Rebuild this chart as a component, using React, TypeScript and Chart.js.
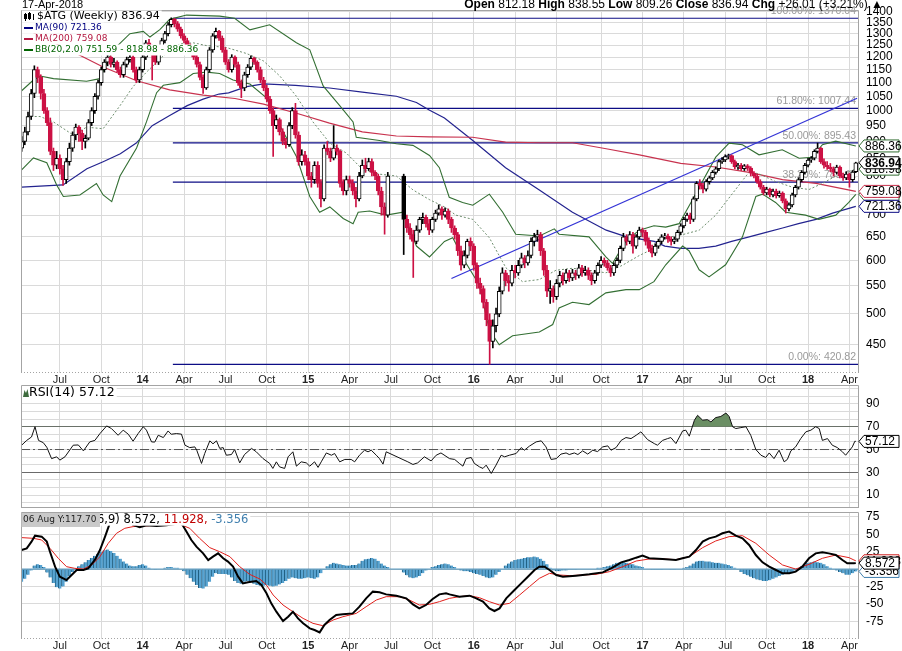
import React, { useEffect, useRef } from "react";
import { Chart, registerables } from "chart.js";

Chart.register(...registerables);

// ===================== DATA =====================
const START_DATE = Date.UTC(2013, 3, 8); // Monday of first weekly bar
const WEEKS = 263;

// weekly candles [open, high, low, close]; null = weeks missing in the feed
const OHLC: any[] = [
  // 0-9
  [880,915,870,900],[900,945,890,930],[930,995,920,980],[980,1075,970,1060],[1060,1165,1045,1150],[1150,1160,1100,1120],[1120,1130,1040,1060],[1060,1075,990,1000],[1000,1010,950,960],[960,975,860,870],
  // 10-19
  [870,880,815,830],[830,870,820,850],[850,860,805,820],[820,830,775,790],[790,850,780,840],[840,895,830,880],[880,930,870,920],[920,955,905,945],[945,950,900,925],[925,935,875,900],
  // 20-29
  [900,920,880,910],[910,970,905,960],[960,1010,950,1000],[1000,1060,990,1050],[1050,1110,1040,1100],[1100,1160,1090,1150],[1150,1190,1140,1180],[1180,1210,1165,1200],[1200,1205,1160,1170],[1170,1195,1160,1180],
  // 30-39
  [1180,1185,1140,1150],[1150,1160,1120,1130],[1130,1180,1120,1170],[1170,1200,1160,1190],[1190,1215,1180,1200],[1200,1205,1140,1150],[1150,1160,1100,1110],[1110,1160,1100,1150],[1150,1210,1140,1200],[1200,1270,1190,1260],
  // 40-49
  [1260,1275,1230,1240],[1240,1250,1110,1210],[1210,1220,1170,1180],[1180,1240,1170,1230],[1230,1280,1220,1270],[1270,1310,1260,1300],[1300,1350,1290,1340],[1340,1372,1330,1365],[1365,1370,1330,1345],[1345,1355,1310,1320],
  // 50-59
  [1320,1330,1280,1290],[1290,1300,1260,1270],[1270,1280,1230,1240],[1240,1255,1210,1220],[1220,1230,1190,1200],[1200,1210,1160,1170],[1170,1180,1110,1120],[1120,1130,1060,1080],[1080,1160,1075,1150],[1150,1240,1140,1230],
  // 60-69
  [1230,1300,1220,1290],[1290,1325,1280,1310],[1310,1315,1270,1280],[1280,1290,1220,1230],[1230,1240,1170,1180],[1180,1190,1140,1150],[1150,1210,1140,1200],[1200,1205,1160,1170],[1170,1180,1090,1100],[1100,1110,1045,1080],
  // 70-79
  [1080,1140,1070,1130],[1130,1170,1120,1160],[1160,1205,1150,1195],[1195,1200,1170,1180],[1180,1185,1140,1150],[1150,1160,1100,1110],[1110,1120,1070,1080],[1080,1090,1030,1040],[1040,1050,990,1000],[1000,1010,855,950],
  // 80-89
  [950,985,940,970],[970,975,920,930],[930,940,890,900],[900,910,880,890],[890,960,885,950],[950,1010,940,1000],[1000,1025,910,920],[920,930,830,840],[840,875,830,860],[860,870,830,840],
  // 90-99
  [840,850,790,800],[800,810,770,790],[790,840,780,830],[830,840,770,780],[780,790,720,740],[740,890,735,880],[880,900,860,870],[870,880,840,850],[850,950,845,880],[880,890,860,870],
  // 100-109
  [870,875,770,780],[780,790,750,760],[760,800,750,790],[790,800,770,780],[780,790,750,760],[760,770,720,740],[740,810,735,800],[800,845,795,830],[830,850,810,820],[820,850,815,840],
  // 110-119
  [840,848,800,810],[810,815,790,800],[800,805,750,760],[760,770,700,720],[720,730,656,700],[700,810,695,800],null,null,null,null,
  // 120-129
  [800,805,612,690],[690,700,660,670],[670,680,645,655],[655,665,566,640],[640,675,635,665],[665,695,660,690],[690,705,680,695],[695,700,672,680],[680,690,655,665],[665,695,660,690],
  // 130-139
  [690,712,685,705],[705,725,700,715],[715,720,690,700],[700,718,695,710],[710,715,680,690],[690,695,660,670],[670,675,645,655],[655,660,610,620],[620,630,580,590],[590,620,585,610],
  // 140-149
  [610,645,605,640],[640,648,620,630],[630,635,580,590],[590,595,545,555],[555,565,535,545],[545,550,510,520],[520,525,480,490],[490,500,421,455],[455,490,445,480],[480,510,470,500],
  // 150-159
  [500,548,495,540],[540,585,535,575],[575,580,550,560],[560,570,540,555],[555,590,550,580],[580,590,565,575],[575,600,570,590],[590,615,585,605],[605,610,585,595],[595,620,590,610],
  // 160-169
  [610,648,605,640],[640,658,630,650],[650,665,640,655],[655,660,610,620],[620,625,570,580],[580,590,530,540],[540,560,518,545],[545,550,520,530],[530,562,525,555],[555,578,548,570],
  // 170-179
  [570,575,552,560],[560,582,555,575],[575,580,558,565],[565,582,560,575],[575,580,562,570],[570,592,565,585],[585,590,568,575],[575,588,570,580],[580,585,562,570],[570,575,552,560],
  // 180-189
  [560,580,555,575],[575,595,570,590],[590,608,585,600],[600,605,588,595],[595,600,580,585],[585,590,568,575],[575,595,570,590],[590,605,585,600],[600,630,595,625],[625,658,620,650],
  // 190-199
  [650,655,632,640],[640,662,635,655],[655,660,615,630],[630,655,625,650],[650,672,645,665],[665,670,650,660],[660,665,632,640],[640,648,618,625],[625,632,607,615],[615,635,610,630],
  // 200-209
  [630,645,625,640],[640,655,635,650],[650,658,645,652],[652,656,638,645],[645,650,632,640],[640,650,635,645],[645,665,640,660],[660,680,655,675],[675,695,670,690],[690,705,685,700],
  // 210-219
  [700,705,680,690],[690,745,685,740],[740,785,735,780],[780,790,765,775],[775,780,755,765],[765,790,760,785],[785,800,778,795],[795,815,790,810],[810,825,805,820],[820,845,815,840],
  // 220-229
  [840,852,835,845],[845,860,840,855],[855,862,848,858],[858,860,835,840],[840,845,820,825],[825,835,818,830],[830,835,815,820],[820,832,815,828],[828,832,815,822],[822,826,800,808],
  // 230-239
  [808,812,795,800],[800,805,780,785],[785,790,765,770],[770,775,750,755],[755,770,750,765],[765,768,745,750],[750,765,745,760],[760,765,742,748],[748,760,744,755],[755,758,730,735],
  // 240-249
  [735,740,705,715],[715,730,710,725],[725,755,720,750],[750,775,745,770],[770,795,765,790],[790,815,785,810],[810,835,805,830],[830,850,825,845],[845,855,838,850],[850,875,845,870],
  // 250-259
  [870,895,865,880],[880,882,835,840],[840,848,822,830],[830,840,818,825],[825,835,812,820],[820,825,800,810],[810,830,805,825],[825,828,795,800],[800,808,788,795],[795,812,790,805],
  // 260-262
  [805,808,770,790],[790,815,785,810.93],[812.18,838.55,809.26,836.94],
];

// overlays: [week index, value]
const MA90_PTS = [[0,770],[13,776],[20.5,820],[25.6,840],[31,863],[36,895],[41,950],[46.5,983],[52,1017],[57,1040],[62,1058],[65,1062],[70.7,1085],[76,1095],[86,1090],[96.7,1080],[107,1065],[117.7,1050],[124,1028],[128,1002],[132.8,975],[141.6,904],[152,823],[162.6,763],[173,707],[183.6,665],[190,650],[198.7,640],[202,630],[207,625],[212.7,625],[218,630],[223,640],[228.5,650],[233.8,660],[239,670],[244,680],[249.5,690],[254.7,705],[262,721.36]];
const MA200_PTS = [[0,1330],[17.8,1211],[25.6,1160],[36.1,1107],[46.5,1073],[57,1054],[67,1042],[76,1022],[86.6,990],[96.7,958],[107,930],[117.7,917],[128,914],[141.6,913],[152,898],[162.6,896],[173,896],[183.6,878],[194,860],[207,835],[218,825],[228.5,810],[239,790],[249.5,780],[262,759.08]];
const BB_UPPER_PTS = [[0,1070],[3.7,1110],[5.8,1125],[10,1115],[20.4,1105],[24.6,1115],[27.2,1190],[28.8,1230],[34,1300],[38.2,1310],[40.3,1285],[43.4,1318],[46.5,1365],[51.8,1385],[62.2,1380],[66.9,1370],[71.7,1317],[77.9,1340],[86.3,1260],[90.5,1230],[94.7,1088],[99.9,1017],[104.1,962],[105.1,913],[112.4,903],[117.7,893],[122.9,888],[128.1,858],[131.2,823],[134.3,744],[138.5,731],[141.7,724],[146.9,752],[151.1,707],[155.2,656],[162.6,652],[167.3,668],[168.8,656],[178.2,650],[183.5,607],[185.6,594],[189.8,641],[194,665],[198.6,675],[202.3,672],[206.5,680],[210.7,738],[218,853],[222.2,895],[226.4,890],[231.6,860],[238.9,875],[244.2,850],[248.3,853],[251.5,890],[255.7,901],[262,886.36]];
const BB_MID_PTS = [[1.6,980],[5.8,980],[10,962],[16.2,920],[20.4,945],[25.6,940],[30.9,1017],[35,1085],[39.2,1140],[44.5,1205],[49.7,1255],[53.9,1260],[58.1,1248],[64.3,1240],[70.6,1215],[75.9,1185],[81.1,1125],[86.3,1050],[91.5,962],[96.8,895],[102,865],[107.2,817],[112.4,805],[117.7,800],[122.9,763],[128.1,738],[132.8,720],[136.4,700],[141.7,690],[146.9,648],[152.1,585],[157.3,558],[162.6,562],[167.8,580],[173,584],[178.2,580],[183.5,575],[188.7,590],[194,610],[198.6,625],[202.3,648],[207.6,655],[212.8,665],[218,700],[223.2,753],[228.5,811],[231.6,806],[236.8,785],[242.1,770],[247.3,764],[251.5,780],[255.7,800],[262,818.98]];
const BB_LOWER_PTS = [[0,817],[3.7,851],[7.9,837],[11,776],[13.1,746],[18.3,750],[23.5,780],[25.6,750],[28.3,733],[30.9,800],[36.1,880],[39.2,962],[42.4,1063],[44.5,1090],[49.7,1100],[53.9,1135],[58.1,1140],[62.2,1135],[66.4,1110],[71.7,1095],[76.9,1044],[81.1,950],[86.3,855],[90.5,746],[93.6,707],[96.8,720],[101,692],[104.1,680],[105.7,707],[109.3,710],[114.5,700],[119.8,707],[124,630],[128.1,607],[132.8,640],[135.4,648],[139.6,594],[143.7,552],[146.9,473],[150,450],[154.2,464],[162.6,470],[166.8,482],[168.8,510],[173,520],[178.2,516],[183.5,537],[189.8,543],[194,543],[198.6,558],[202.3,591],[207.6,630],[209.6,620],[212.8,581],[215.9,567],[221.1,591],[226.4,650],[230.6,746],[232.7,752],[236.8,731],[240,707],[246.2,700],[250.4,690],[255.7,700],[259.8,731],[262,751.59]];
const TREND_PTS = [[135,564],[262.4,1043]];
const FIB_START = 47.5;
const FIB_LEVELS = [1370.04, 1007.44, 895.43, 783.42, 420.82];
const FIB_NAMES = ["100.00%", "61.80%", "50.00%", "38.20%", "0.00%"];
const PRICE_TICKS = [450,500,550,600,650,700,750,800,850,900,950,1000,1050,1100,1150,1200,1250,1300,1350,1400];

const RSI_PTS = [[0,53.8],[1.6,58],[3.1,61],[4.2,70],[5.3,58],[6.8,56],[7.9,52],[9.4,42],[11,43.6],[12,40.7],[13.6,43.6],[16.2,53.8],[17.8,54],[19.4,48.8],[21.4,56.7],[23,58],[24.6,64],[26.7,70.7],[28.2,68.4],[30.3,62.5],[31.9,67],[33.5,63.4],[35,57.3],[36.6,64],[38.2,70],[39.2,67],[40.8,56.7],[41.8,56.5],[42.9,62.5],[44.5,60.5],[46,66.3],[47,63.4],[48.6,64],[50.2,63.5],[51.3,53.8],[52.8,51.7],[54.4,52.3],[55,49.4],[56.5,37.8],[57.5,46.5],[59.1,57.6],[60.1,55],[61.2,57.6],[62.2,51],[63.3,51.7],[64.3,45],[65.9,45.6],[66.9,50],[68.5,38.3],[70,45.6],[72.2,51],[73.7,48],[75.8,42.1],[77.9,37.8],[78.9,33.4],[80,39.2],[81,34.8],[82.6,33.4],[83.7,43.6],[85.2,48],[86.3,35.4],[87.8,39.2],[89.4,38.3],[90.5,35.4],[92,39.2],[93.1,34.3],[94.1,39.2],[95.7,47],[97.3,45],[98.3,46.5],[99.9,39.2],[101.5,41.3],[103.5,41.3],[104.6,39.2],[106.1,45],[107.7,49.4],[108.8,48],[109.8,49.4],[111.4,45],[112.4,42],[113.5,37.2],[114.5,48],[121.3,39.2],[122.9,36.9],[124.4,38.3],[126.5,43.6],[128.6,40],[130.2,45],[131.7,47],[134.4,42],[136,41.3],[137.5,37.8],[138.6,35.4],[139.6,42],[141.2,43],[142.2,37.8],[143.8,34.8],[144.9,33.4],[145.9,36.3],[147.5,29],[149,36.3],[150.6,45],[151.7,43.6],[153.2,45],[155.3,46.5],[156.9,51.7],[157.9,49.4],[159.5,53],[161.6,56.7],[163.2,57.6],[164.7,52.3],[166.3,41.3],[167.9,42],[169.4,46],[171,47],[172,45.6],[173.6,47],[174.7,45.6],[176.2,48.8],[177.8,46],[179.4,49.4],[180.9,48.2],[182.5,52.3],[184.1,53.2],[185.1,49.4],[186.7,51.7],[188.3,58],[189.8,60.5],[191.4,59.6],[193,62.5],[194.5,65.5],[196.6,58.7],[198.7,55.2],[199.7,53.8],[201.3,58],[202.9,59.6],[203.9,60.5],[205.5,55.2],[207.6,66.3],[208.6,67],[209.7,61.7],[211.3,75.7],[212.3,80],[213.9,75.7],[215.4,76.2],[216.5,74.2],[218,78],[219.6,79],[221.2,82],[222.2,79],[223.3,70],[224.3,68.4],[225.9,69.2],[227.5,70],[229,62.5],[230.6,50],[232.2,45],[233.7,43],[234.8,47],[236.3,42],[237.9,49.4],[239.5,39.2],[240.5,41.3],[241.6,48.8],[243.1,52.3],[244.7,59.6],[246.3,65.5],[247.9,67],[249.4,70],[250.5,68.4],[251.5,58],[253.1,59.6],[254.6,53.8],[256.2,51.7],[257.8,48],[258.8,45],[259.9,48.8],[260.9,52.3],[261.7,57.3],[262,57.12]];
const RSI_LABELS = [10, 30, 50, 70, 90];

const MACD_PTS = [[0,27.4],[1.6,29.8],[3.1,39.4],[4.2,48],[6.3,46.6],[7.9,39.4],[8.9,25],[10.5,3.5],[12,-10.9],[14.1,-15.7],[15.7,-8.5],[17.3,-1.3],[19.4,-1.3],[20.9,1.1],[23,13.1],[24.6,27.4],[26.2,46.6],[27.7,65.8],[29.3,77.7],[30.9,85],[32.9,80],[35,63.4],[37.1,60],[39.2,63],[42.4,62],[45.5,63],[48.6,65],[50.2,65.8],[51.8,53.8],[53.3,41.8],[54.9,32.2],[57,22.6],[58.6,13],[60.1,17.9],[61.7,22.6],[63.3,15.5],[64.8,10.7],[66.4,3.5],[68,-10.9],[69.5,-20.5],[71.1,-19],[73.7,-17.1],[75.3,-22.9],[76.9,-34.8],[78.4,-49.2],[80,-61.2],[82.1,-74.6],[83.7,-68.4],[85.2,-61.2],[86.8,-70.8],[88.4,-77.9],[90.5,-85.1],[92,-87.5],[93.6,-90.9],[95.1,-80.3],[96.7,-73.2],[98.8,-66],[100.9,-65],[104,-63.6],[106.1,-54],[108.2,-42],[110.3,-32.4],[112.4,-33.4],[114.5,-36.3],[117.7,-38.2],[120.8,-42],[122.9,-50.6],[124.9,-56.4],[127,-51.6],[129.1,-43],[131.2,-36.3],[133.3,-34.8],[134.4,-36.3],[137.5,-39.6],[140.7,-38.2],[142.8,-42],[144.9,-46.8],[146.9,-56.4],[148.5,-60.2],[150.1,-56.4],[152.2,-42],[154.8,-30],[156.9,-20.5],[159,-10.9],[161.1,-1.3],[162.6,3.5],[164.2,3.5],[165.8,-1.3],[167.9,-8.5],[170,-10.9],[174.1,-9.4],[178.3,-7.5],[182.5,-4.7],[185.6,2],[188.3,9.7],[190.9,13.1],[193,16.4],[195,19.3],[197.1,15.5],[201.3,14.5],[205.5,13.1],[207.6,15.5],[209.7,17.9],[211.8,27.4],[213.9,39.4],[215.9,44.2],[218,46.6],[220.1,51.4],[222.2,53.8],[224.3,48],[226.4,44.2],[228.5,34.6],[230.6,20.2],[232.7,9.7],[234.8,3.5],[236.9,-1.3],[239,-6.1],[241.1,-6.1],[243.1,-3.7],[245.2,3.5],[247.3,15.5],[249.4,22.6],[251.5,24.1],[253.5,22.6],[255.7,20.2],[257.8,13.1],[259.3,8.3],[261.4,8.3],[262,8.572]];
const SIGNAL_PTS = [[0,45.2],[3.7,44.2],[6.3,41.8],[8.9,29.8],[11.5,15.5],[14.1,3.5],[16.7,1.1],[19.4,0.1],[22,5.9],[24.6,17.9],[27.2,37],[29.8,51.4],[32.4,58.6],[35,61],[40.3,62.4],[45.5,63.4],[49.7,64.3],[52.8,58.6],[55.9,44.2],[59.1,30.8],[62.2,25],[65.4,17.9],[68.5,3.5],[71.6,-7.5],[74.8,-14.2],[76.9,-22.9],[79,-37.2],[82.1,-51.6],[85.2,-61.2],[88.4,-70.8],[91.5,-77.9],[94.6,-81.3],[97.8,-73.2],[100.9,-68.4],[105.1,-63.6],[108.2,-54],[111.4,-44.4],[114.5,-39.6],[118.7,-39.6],[121.8,-44.4],[124.9,-51.6],[128.1,-50.6],[131.2,-46.8],[134.4,-42],[137.5,-39.6],[140.7,-38.2],[143.8,-41.1],[146.9,-46.8],[150.1,-51.6],[153.2,-49.2],[156.4,-37.2],[159.5,-25.2],[162.6,-13.3],[165.8,-6.1],[168.9,-8.5],[172.1,-9.4],[176.2,-8.5],[180.4,-7.5],[184.6,-3.7],[188.8,3.5],[193,11.6],[197.1,14.5],[201.3,14.5],[205.5,13.6],[209.7,17.9],[213.9,30.8],[218,40.4],[222.2,46.6],[226.4,48],[230.6,37],[234.8,20.2],[239,5.9],[243.1,0.1],[247.3,6.8],[251.5,15.5],[255.7,20.2],[259.9,16.4],[261.4,13.1],[262,11.928]];
const HIST: (number | null)[] = [
  -18,-14,-8,-2,5,7,6,3,-5,-12,
  -20,-26,-28,-25,-18,-10,-4,1,4,7,
  10,13,16,19,22,25,27,28,26,23,
  19,15,11,8,5,4,4,6,7,5,
  2,0,-1,0,1,2,3,3,2,2,
  1,-3,-8,-13,-18,-23,-27,-28,-25,-18,
  -11,-6,-7,-7,-7,-8,-12,-17,-20,-21,
  -18,-17,-19,-21,-23,-24,-24,-23,-24,-25,
  -24,-22,-20,-17,-14,-12,-13,-14,-14,-13,
  -12,-13,-14,-12,-6,-1,4,7,9,8,
  7,6,5,5,6,6,8,12,14,15,
  16,15,12,8,5,3,null,null,null,null,
  -5,-9,-12,-13,-12,-10,-6,-2,1,3,
  4,6,7,8,7,5,3,0,-2,-3,
  -3,-4,-6,-7,-8,-10,-12,-13,-12,-8,
  -4,1,5,8,11,13,14,15,16,17,
  17,18,17,15,12,7,2,-2,-3,-3,
  -2,-2,-1,-1,-1,0,0,0,0,1,
  1,2,2,3,4,5,7,9,10,10,
  9,8,7,5,4,3,1,0,-1,-1,
  -1,-1,0,0,-1,-1,0,1,2,3,
  5,8,11,12,12,11,11,10,9,9,
  8,7,6,4,2,-1,-4,-7,-9,-11,
  -13,-15,-16,-17,-17,-16,-14,-12,-10,-8,
  -7,-6,-4,-2,1,4,7,9,10,11,
  10,9,7,4,2,0,-2,-4,-6,-8,
  -8,-6,-3.356,
];
const MACD_TICKS = [-75, -50, -25, 0, 25, 50, 75];

// ===================== STYLE / LAYOUT =====================
const AXIS_FONT = '"Liberation Sans", Arial, sans-serif';
const LEG_FONT = '"DejaVu Sans", Verdana, sans-serif';
const X_MIN = -0.2, X_MAX = 263.0;
const AXIS_W = 43, LEFT_PAD = 21;
const RED = "#cc1144";
const NAVY = "#0d0d85";
const MA90_C = "#23238f";
const MA200_C = "#c8324e";
const BB_C = "#336f33";
const GRID_C = "#dadada";

// quarter ticks (first trading week of Jan/Apr/Jul/Oct)
const Q_TICKS = (() => {
  const out: any[] = [];
  const names = ["", "Apr", "Jul", "Oct"];
  for (let y = 2013; y <= 2018; y++) {
    for (let q = 0; q < 4; q++) {
      const m = q * 3;
      let d = new Date(Date.UTC(y, m, 1));
      const dow = d.getUTCDay();
      if (dow === 6) d = new Date(Date.UTC(y, m, 3));
      else if (dow === 0) d = new Date(Date.UTC(y, m, 2));
      const idx = Math.floor((d.getTime() - START_DATE) / (7 * 86400000));
      if (idx >= 0 && idx < WEEKS) out.push({ i: idx, label: q === 0 ? String(y % 100) : names[q], year: q === 0 });
    }
  }
  return out;
})();
const Q_LABEL = new Map(Q_TICKS.map((t) => [t.i, t.label]));
const Q_YEAR = new Set(Q_TICKS.filter((t) => t.year).map((t) => t.i));

function xAxis(showLabels: boolean, height: number): any {
  return {
    type: "linear",
    min: X_MIN,
    max: X_MAX,
    offset: false,
    afterBuildTicks: (s: any) => { s.ticks = Q_TICKS.map((t) => ({ value: t.i })); },
    afterFit: (s: any) => { s.height = height; s.paddingLeft = 0; s.paddingRight = 0; s.paddingTop = 0; s.paddingBottom = 0; },
    grid: { color: GRID_C, drawTicks: false, offset: false },
    border: { display: false },
    ticks: {
      display: showLabels,
      autoSkip: false,
      maxRotation: 0,
      minRotation: 0,
      padding: 0,
      color: "#222",
      callback: (v: any) => Q_LABEL.get(v) ?? "",
      font: (c: any) => ({ family: AXIS_FONT, size: 11, weight: c.tick && Q_YEAR.has(c.tick.value) ? "bold" : "normal" }),
    },
  };
}

function yFit(s: any) {
  s.width = AXIS_W;
  s.paddingTop = 0;
  s.paddingBottom = 0;
  s.paddingLeft = 0;
  s.paddingRight = 0;
}

function lineDs(pts: number[][], color: string, width: number, extra: any = {}): any {
  return {
    type: "line",
    data: pts.map(([x, y]) => ({ x, y })),
    borderColor: color,
    borderWidth: width,
    pointRadius: 0,
    tension: 0,
    fill: false,
    spanGaps: true,
    ...extra,
  };
}

function drawTag(ctx: any, x: number, y: number, text: string, border: string, bold = false) {
  const h = 12, w = 40;
  ctx.beginPath();
  ctx.moveTo(x, y);
  ctx.lineTo(x + 5, y - h / 2);
  ctx.lineTo(x + w, y - h / 2);
  ctx.lineTo(x + w, y + h / 2);
  ctx.lineTo(x + 5, y + h / 2);
  ctx.closePath();
  ctx.fillStyle = "#fff";
  ctx.fill();
  ctx.lineWidth = 1;
  ctx.strokeStyle = border;
  ctx.stroke();
  ctx.fillStyle = "#000";
  ctx.font = (bold ? "bold " : "") + "12px " + AXIS_FONT;
  ctx.textAlign = "left";
  ctx.textBaseline = "middle";
  ctx.fillText(text, x + 6, y + 0.5);
}

function legendRow(ctx: any, x: number, y: number, parts: [string, string][], bgLeft: number, h = 11) {
  let w = 0;
  parts.forEach(([t]) => (w += ctx.measureText(t).width));
  ctx.fillStyle = "#fff";
  ctx.fillRect(bgLeft, y - h / 2, x + w - bgLeft + 2, h);
  let cx = x;
  parts.forEach(([t, c]) => {
    ctx.fillStyle = c;
    ctx.fillText(t, cx, y);
    cx += ctx.measureText(t).width;
  });
}

function frame(ctx: any, a: any, dottedBottom: boolean) {
  ctx.save();
  ctx.strokeStyle = "#a4a4a4";
  ctx.lineWidth = 1;
  ctx.beginPath();
  ctx.moveTo(a.left + 0.5, a.bottom);
  ctx.lineTo(a.left + 0.5, a.top + 0.5);
  ctx.lineTo(a.right - 0.5, a.top + 0.5);
  ctx.lineTo(a.right - 0.5, a.bottom);
  ctx.stroke();
  if (dottedBottom) ctx.setLineDash([1, 2]);
  ctx.beginPath();
  ctx.moveTo(a.left, a.bottom - 0.5);
  ctx.lineTo(a.right, a.bottom - 0.5);
  ctx.stroke();
  ctx.restore();
}

// ===================== CHART CONFIGS =====================
function priceConfig(): any {
  const wick: any[] = [], body: any[] = [], wickCol: string[] = [], bodyBg: string[] = [], bodyBorder: string[] = [];
  OHLC.forEach((d: any, i: number) => {
    if (!d) {
      wick.push({ x: i, y: null }); body.push({ x: i, y: null });
      wickCol.push(RED); bodyBg.push(RED); bodyBorder.push(RED);
      return;
    }
    const [o, h, l, c] = d;
    const prev = i > 0 && OHLC[i - 1] ? OHLC[i - 1][3] : null;
    const col = prev === null || c >= prev ? "#000" : RED;
    wick.push({ x: i, y: [l, h] });
    body.push({ x: i, y: [o, c] });
    wickCol.push(col);
    bodyBorder.push(col);
    bodyBg.push(c > o ? "#fff" : col);
  });

  const datasets: any[] = [];
  FIB_LEVELS.forEach((v) => datasets.push(lineDs([[FIB_START, v], [X_MAX, v]], NAVY, 1.2, { order: 20 })));
  datasets.push(lineDs(MA200_PTS, MA200_C, 1.2, { order: 12 }));
  datasets.push(lineDs(MA90_PTS, MA90_C, 1.2, { order: 12 }));
  datasets.push(lineDs(BB_UPPER_PTS, BB_C, 1.1, { order: 11 }));
  datasets.push(lineDs(BB_LOWER_PTS, BB_C, 1.1, { order: 11 }));
  datasets.push(lineDs(BB_MID_PTS, "#6e8e6e", 1, { order: 11, borderDash: [2, 2] }));
  datasets.push(lineDs(TREND_PTS, "#3434d6", 1.3, { order: 10 }));
  datasets.push({ type: "bar", data: wick, backgroundColor: wickCol, borderWidth: 0, barThickness: 1, grouped: false, order: 2 });
  datasets.push({ type: "bar", data: body, backgroundColor: bodyBg, borderColor: bodyBorder, borderWidth: 1, borderSkipped: false, barThickness: 4, minBarLength: 1, grouped: false, order: 1 });

  const plugin = {
    id: "priceDecor",
    beforeDatasetsDraw(chart: any) {
      const { ctx, chartArea: a, scales } = chart;
      ctx.save();
      ctx.font = "10.5px " + AXIS_FONT;
      ctx.fillStyle = "#9a9a9a";
      ctx.textAlign = "right";
      ctx.textBaseline = "middle";
      FIB_LEVELS.forEach((v, k) => ctx.fillText(FIB_NAMES[k] + ": " + v.toFixed(2), a.right - 3, scales.y.getPixelForValue(v) - 7));
      ctx.restore();
    },
    afterDraw(chart: any) {
      const { ctx, chartArea: a, scales } = chart;
      frame(ctx, a, true);
      ctx.save();
      ctx.textAlign = "left";
      ctx.textBaseline = "middle";
      // legend
      ctx.font = "11px " + LEG_FONT;
      legendRow(ctx, 37, 16.5, [["$ATG (Weekly) 836.94", "#000"]], 22, 12);
      ctx.font = "9px " + LEG_FONT;
      legendRow(ctx, 35, 28, [["MA(90) 721.36", "#000080"]], 22);
      legendRow(ctx, 35, 39, [["MA(200) 759.08", "#b3173f"]], 22);
      legendRow(ctx, 35, 50, [["BB(20,2.0) 751.59 - 818.98 - 886.36", "#006400"]], 22);
      // legend swatches
      ctx.fillStyle = "#000080"; ctx.fillRect(24, 27, 9, 2);
      ctx.fillStyle = "#b3173f"; ctx.fillRect(24, 38, 9, 2);
      ctx.fillStyle = "#006400"; ctx.fillRect(24, 49, 9, 2);
      // candle icon
      ctx.fillStyle = "#000";
      ctx.fillRect(25, 13, 1, 8); ctx.fillRect(24, 14, 3, 5);
      ctx.fillRect(29, 12, 1, 8); ctx.strokeStyle = "#000"; ctx.lineWidth = 1; ctx.strokeRect(28.5, 13.5, 2, 5);
      ctx.fillRect(33, 14, 1, 6);
      // header
      ctx.font = "11px " + AXIS_FONT;
      ctx.textBaseline = "alphabetic";
      ctx.fillStyle = "#000";
      ctx.fillText("17-Apr-2018", 22, 7.5);
      const parts: [string, boolean][] = [["Open ", true], ["812.18 ", false], ["High ", true], ["838.55 ", false], ["Low ", true], ["809.26 ", false], ["Close ", true], ["836.94 ", false], ["Chg ", true], ["+26.01 (+3.21%) ", false], ["\u25B2", false]];
      const fontOf = (b: boolean) => (b ? "bold " : "") + "12px " + AXIS_FONT;
      let total = 0;
      parts.forEach(([t, b]) => { ctx.font = fontOf(b); total += ctx.measureText(t).width; });
      let hx = 883 - total;
      parts.forEach(([t, b]) => { ctx.font = fontOf(b); ctx.fillText(t, hx, 7.5); hx += ctx.measureText(t).width; });
      // value tags
      const tags: [number, string, boolean][] = [[751.59, BB_C, false], [721.36, NAVY, false], [759.08, MA200_C, false], [818.98, BB_C, false], [886.36, BB_C, false], [836.94, "#000", true]];
      tags.forEach(([v, c, b]) => drawTag(ctx, a.right, scales.y.getPixelForValue(v), v.toFixed(2), c, b));
      ctx.restore();
    },
  };

  return {
    type: "bar",
    data: { datasets },
    options: {
      responsive: false,
      animation: false,
      events: [],
      layout: { padding: { left: LEFT_PAD, top: 10, right: 0, bottom: 0 } },
      plugins: { legend: { display: false }, tooltip: { enabled: false } },
      scales: {
        x: xAxis(true, 11),
        y: {
          type: "logarithmic",
          position: "right",
          min: 408.6,
          max: 1409.2,
          afterBuildTicks: (s: any) => { s.ticks = PRICE_TICKS.map((v) => ({ value: v })); },
          afterFit: yFit,
          grid: { color: GRID_C, drawTicks: false },
          border: { display: false },
          ticks: { padding: 7, color: "#000", autoSkip: false, font: { family: AXIS_FONT, size: 12 }, callback: (v: any) => String(v) },
        },
      },
    },
    plugins: [plugin],
  };
}

function rsiConfig(): any {
  const grid: number[] = [];
  for (let k = -1; k <= 14; k++) grid.push(10 + (k * 20) / 3);
  const datasets: any[] = [
    lineDs([[X_MIN, 50], [X_MAX, 50]], "#555", 1, { borderDash: [9, 3, 2, 3], order: 5 }),
    lineDs(RSI_PTS, "#111", 1, { order: 1, fill: { target: { value: 70 }, above: "#6b8f64", below: "rgba(0,0,0,0)" } }),
  ];
  const plugin = {
    id: "rsiDecor",
    afterDraw(chart: any) {
      const { ctx, chartArea: a, scales } = chart;
      frame(ctx, a, false);
      ctx.save();
      ctx.font = "12.5px " + LEG_FONT;
      ctx.textAlign = "left";
      ctx.textBaseline = "middle";
      legendRow(ctx, 29, a.top + 8, [["RSI(14) 57.12", "#000"]], 22, 13);
      ctx.fillStyle = "#3d6b3d";
      ctx.beginPath();
      ctx.moveTo(23, a.top + 12); ctx.lineTo(24.5, a.top + 5); ctx.lineTo(26, a.top + 8); ctx.lineTo(27.5, a.top + 4); ctx.lineTo(29, a.top + 12);
      ctx.closePath(); ctx.fill();
      drawTag(ctx, a.right, scales.y.getPixelForValue(57.12), "57.12", "#000");
      ctx.restore();
    },
  };
  return {
    type: "line",
    data: { datasets },
    options: {
      responsive: false,
      animation: false,
      events: [],
      layout: { padding: { left: LEFT_PAD, top: 1, right: 0, bottom: 0 } },
      plugins: { legend: { display: false }, tooltip: { enabled: false } },
      scales: {
        x: xAxis(false, 2),
        y: {
          type: "linear",
          position: "right",
          min: -1.3,
          max: 106.6,
          afterBuildTicks: (s: any) => { s.ticks = grid.map((v) => ({ value: v })); },
          afterFit: yFit,
          grid: {
            drawTicks: false,
            color: (c: any) => (c.tick && (Math.abs(c.tick.value - 70) < 0.01 || Math.abs(c.tick.value - 30) < 0.01) ? "#6a6a6a" : GRID_C),
          },
          border: { display: false },
          ticks: {
            padding: 7,
            color: "#000",
            autoSkip: false,
            font: { family: AXIS_FONT, size: 12 },
            callback: (v: any) => {
              const r = Math.round(v);
              return Math.abs(v - r) < 0.01 && RSI_LABELS.includes(r) ? String(r) : "";
            },
          },
        },
      },
    },
    plugins: [plugin],
  };
}

function macdConfig(): any {
  const datasets: any[] = [
    {
      type: "bar",
      data: HIST.map((v, i) => ({ x: i, y: v })),
      backgroundColor: "#58a4d2",
      borderColor: "#1f5f82",
      borderWidth: { left: 1, right: 0, top: 0, bottom: 0 },
      borderSkipped: false,
      barPercentage: 1,
      categoryPercentage: 1,
      order: 6,
    },
    lineDs([[X_MIN, 0], [X_MAX, 0]], "#3c86b2", 1, { order: 5 }),
    lineDs(SIGNAL_PTS, "#e0201c", 1, { order: 2 }),
    lineDs(MACD_PTS, "#000", 2, { order: 1 }),
  ];
  const plugin = {
    id: "macdDecor",
    afterDraw(chart: any) {
      const { ctx, chartArea: a, scales } = chart;
      frame(ctx, a, true);
      ctx.save();
      ctx.textAlign = "left";
      ctx.textBaseline = "middle";
      const y = a.top + 7.7;
      ctx.font = "11.5px " + LEG_FONT;
      const start = 97 - ctx.measureText("MACD(12,2").width;
      legendRow(ctx, start, y, [["MACD(12,26,9) 8.572, ", "#000"], ["11.928, ", "#c00000"], ["-3.356", "#3f7fae"]], 22, 12);
      ctx.fillStyle = "#c9c9c9";
      ctx.fillRect(21.5, a.top + 1, 78.5, 14);
      ctx.fillStyle = "#222";
      ctx.font = "9px " + LEG_FONT;
      ctx.fillText("06 Aug Y:117.70", 23, y);
      drawTag(ctx, a.right, scales.y.getPixelForValue(-3.356), "-3.356", "#3f7fae");
      drawTag(ctx, a.right, scales.y.getPixelForValue(11.928), "11.928", "#d02020");
      drawTag(ctx, a.right, scales.y.getPixelForValue(8.572), "8.572", "#000");
      ctx.restore();
    },
  };
  return {
    type: "bar",
    data: { datasets },
    options: {
      responsive: false,
      animation: false,
      events: [],
      layout: { padding: { left: LEFT_PAD, top: 2, right: 0, bottom: 0 } },
      plugins: { legend: { display: false }, tooltip: { enabled: false } },
      scales: {
        x: xAxis(true, 12),
        y: {
          type: "linear",
          position: "right",
          min: -100.4,
          max: 82,
          afterBuildTicks: (s: any) => { s.ticks = MACD_TICKS.map((v) => ({ value: v })); },
          afterFit: yFit,
          grid: { color: GRID_C, drawTicks: false },
          border: { display: false },
          ticks: { padding: 7, color: "#000", autoSkip: false, font: { family: AXIS_FONT, size: 12 }, callback: (v: any) => String(v) },
        },
      },
    },
    plugins: [plugin],
  };
}

export default function App() {
  const r1 = useRef<HTMLCanvasElement>(null);
  const r2 = useRef<HTMLCanvasElement>(null);
  const r3 = useRef<HTMLCanvasElement>(null);
  useEffect(() => {
    Chart.defaults.font.family = AXIS_FONT;
    const charts = [
      new Chart(r1.current as any, priceConfig()),
      new Chart(r2.current as any, rsiConfig()),
      new Chart(r3.current as any, macdConfig()),
    ];
    return () => charts.forEach((c) => c.destroy());
  }, []);
  return (
    <div style={{ position: "absolute", left: 0, top: 0, width: 902, height: 651, background: "#fff", overflow: "hidden" }}>
      <canvas ref={r1} width={902} height={384} style={{ position: "absolute", left: 0, top: 0 }} />
      <canvas ref={r2} width={902} height={126} style={{ position: "absolute", left: 0, top: 384 }} />
      <canvas ref={r3} width={902} height={141} style={{ position: "absolute", left: 0, top: 510 }} />
    </div>
  );
}
